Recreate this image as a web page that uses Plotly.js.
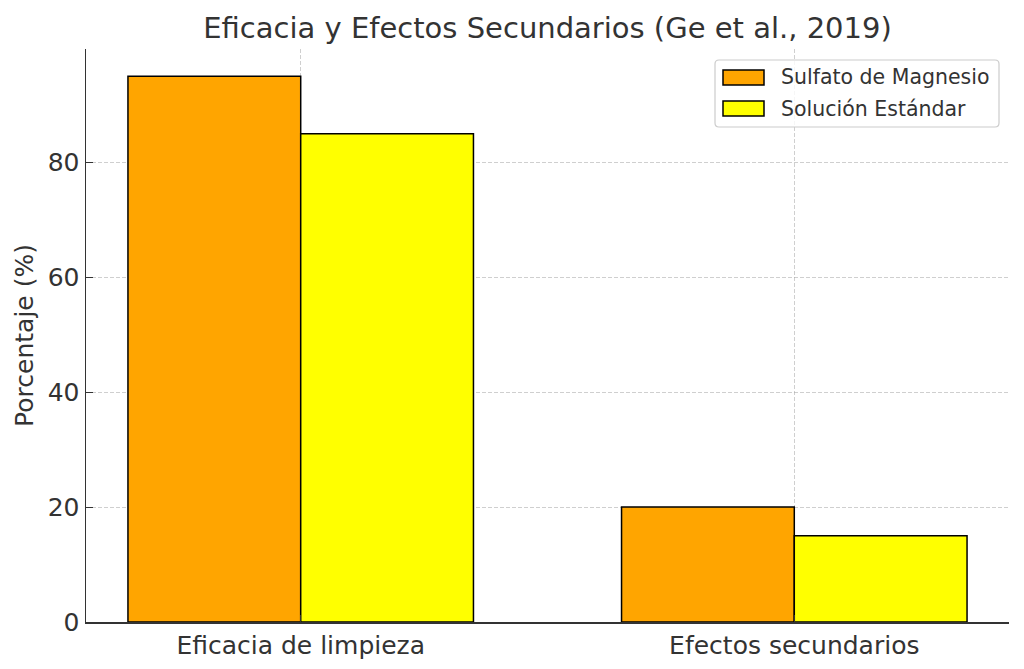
<!DOCTYPE html>
<html>
<head>
<meta charset="utf-8">
<script src="https://cdn.plot.ly/plotly-3.0.1.min.js"></script>
<style>html,body{margin:0;padding:0;background:#fff}#chart{width:1024px;height:669px}</style>
</head>
<body>
<div id="chart"></div>
<script>
const categories = ["Eficacia de limpieza", "Efectos secundarios"];
const seriesNames = ["Sulfato de Magnesio", "Solución Estándar"];
const seriesColors = ["#FFA500", "#FFFF00"];
const sulfatoValues = [95, 20];
const estandarValues = [85, 15];
const yTicks = [0, 20, 40, 60, 80];

const xPos = categories.map((c, i) => i);
const font = "DejaVu Sans, sans-serif";
const textColor = "#333333";

// plot area in pixels
const L = 86, R = 1009, T = 49, B = 622;
const px = v => (v - L) / (R - L);
const py = v => (B - v) / (B - T);

const traces = [
  {
    type: "bar", name: seriesNames[0], x: xPos, y: sulfatoValues,
    width: 0.35, offset: -0.35,
    marker: {color: seriesColors[0], line: {color: "#000000", width: 1.5}},
    hoverinfo: "y"
  },
  {
    type: "bar", name: seriesNames[1], x: xPos, y: estandarValues,
    width: 0.35, offset: 0,
    marker: {color: seriesColors[1], line: {color: "#000000", width: 1.5}},
    hoverinfo: "y"
  }
];

// custom legend (rounded frame, rectangular patches)
function roundedRect(x0, y0, x1, y1, r) {
  const X0 = px(x0), X1 = px(x1), Y0 = py(y0), Y1 = py(y1);
  const rx = r / (R - L), ry = r / (B - T);
  return `M ${X0 + rx} ${Y0} L ${X1 - rx} ${Y0} Q ${X1} ${Y0} ${X1} ${Y0 - ry} L ${X1} ${Y1 + ry} Q ${X1} ${Y1} ${X1 - rx} ${Y1} L ${X0 + rx} ${Y1} Q ${X0} ${Y1} ${X0} ${Y1 + ry} L ${X0} ${Y0 - ry} Q ${X0} ${Y0} ${X0 + rx} ${Y0} Z`;
}
const shapes = [
  {type: "path", xref: "paper", yref: "paper", path: roundedRect(715, 60, 999, 127, 4),
   fillcolor: "rgba(255,255,255,0.8)", line: {color: "#cccccc", width: 1.2}}
];
const annotations = [];
const patchRows = [[70, 85], [101, 116]];
seriesNames.forEach((n, i) => {
  const [a, b] = patchRows[i];
  shapes.push({type: "rect", xref: "paper", yref: "paper",
    x0: px(723), x1: px(764), y0: py(b), y1: py(a),
    fillcolor: seriesColors[i], line: {color: "#000000", width: 1.5}});
  annotations.push({xref: "paper", yref: "paper", x: px(779), y: py((a + b) / 2),
    xanchor: "left", yanchor: "middle", showarrow: false, text: n,
    font: {size: 20.5, color: textColor, family: font}});
});

const gridColor = "rgba(160,160,160,0.5)";
const layout = {
  width: 1024, height: 669,
  margin: {l: L, r: 1024 - R, t: T, b: 669 - B},
  paper_bgcolor: "#ffffff", plot_bgcolor: "#ffffff",
  font: {family: font, color: textColor},
  title: {text: "Eficacia y Efectos Secundarios (Ge et al., 2019)", font: {size: 29, color: textColor, family: font}, xref: "paper", x: 0.5, xanchor: "center", y: 0.958, yanchor: "middle"},
  barmode: "overlay",
  showlegend: false,
  shapes: shapes,
  annotations: annotations,
  xaxis: {
    range: [-0.435, 1.435], tickvals: xPos, ticktext: categories,
    tickfont: {size: 25, color: textColor},
    showgrid: true, gridcolor: gridColor, griddash: "4px,2px", gridwidth: 1,
    showline: true, linecolor: "#333333", linewidth: 1.5,
    ticks: "inside", ticklen: 7, tickcolor: "#333333", tickwidth: 1.2,
    zeroline: false, fixedrange: true, layer: "above traces"
  },
  yaxis: {
    range: [0, 99.75], tickvals: yTicks, ticktext: yTicks.map(String),
    tickfont: {size: 25, color: textColor},
    title: {text: "Porcentaje (%)", font: {size: 25, color: textColor}, standoff: 7},
    showgrid: true, gridcolor: gridColor, griddash: "4px,2px", gridwidth: 1,
    showline: true, linecolor: "#333333", linewidth: 1.5,
    ticks: "inside", ticklen: 7, tickcolor: "#333333", tickwidth: 1.2,
    zeroline: false, fixedrange: true, layer: "above traces"
  }
};

Plotly.newPlot("chart", traces, layout, {displayModeBar: false, staticPlot: true});
</script>
</body>
</html>
